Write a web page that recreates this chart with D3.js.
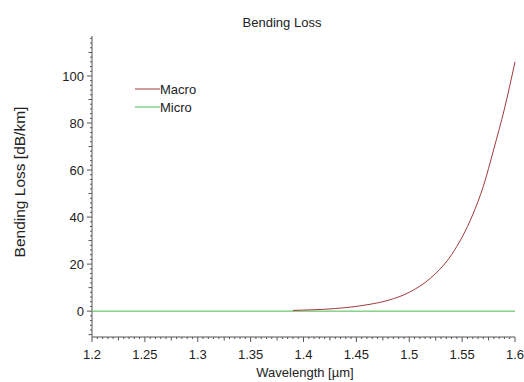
<!DOCTYPE html>
<html lang="en">
<head>
<meta charset="UTF-8">
<title>Bending Loss</title>
<style>
  body { margin: 0; background: #fff; }
  text { font-family: "Liberation Sans", Arial, sans-serif; fill: #222; }
</style>
</head>
<body>
<script src="https://d3js.org/d3.v7.min.js"></script>
<script>

var width = 524,
    height = 382;

var margin = { left: 92, right: 9, top: 36, bottom: 45 };

// wavelength [um] vs bending loss [dB/km]
var macroWavelength = [1.39, 1.40, 1.42, 1.44, 1.46, 1.48, 1.50, 1.52, 1.54, 1.56, 1.57, 1.58, 1.59, 1.60];
var macroLoss       = [0.3, 0.45, 0.8, 1.5, 2.7, 4.6, 8, 14, 24, 41, 53, 69, 86, 106];
var microWavelength = [1.2, 1.6];
var microLoss       = [0, 0];

var xTicks = [1.2, 1.25, 1.3, 1.35, 1.4, 1.45, 1.5, 1.55, 1.6];
var yTicks = [0, 20, 40, 60, 80, 100];
var series = ["Macro", "Micro"];
var colors = ["#a03a3c", "#4cb84c"];

var svg = d3.select("body").append("svg")
    .attr("width", width)
    .attr("height", height);

var x = d3.scaleLinear().domain([1.2, 1.6]).range([margin.left, width - margin.right]);
var y = d3.scaleLinear().domain([-11, 117]).range([height - margin.bottom, margin.top]);

var axisColor = "#555";

// x axis
var xAxis = svg.append("g").attr("transform", "translate(0," + (height - margin.bottom) + ")");
xAxis.append("line")
    .attr("x1", x(1.2)).attr("x2", x(1.6))
    .attr("stroke", axisColor);
var xMinor = d3.range(0, 81).map(function(i) { return 1.2 + i * 0.005; });
xAxis.selectAll("line.minor").data(xMinor).enter().append("line")
    .attr("class", "minor")
    .attr("x1", function(d) { return x(d); })
    .attr("x2", function(d) { return x(d); })
    .attr("y1", 0)
    .attr("y2", function(d, i) { return i % 10 == 0 ? 5 : (i % 5 == 0 ? 3.5 : 2); })
    .attr("stroke", axisColor);
xAxis.selectAll("text").data(xTicks).enter().append("text")
    .attr("x", function(d) { return x(d); })
    .attr("y", 22)
    .attr("text-anchor", "middle")
    .style("font-size", "13px")
    .text(function(d) { return d; });

// y axis
var yAxis = svg.append("g").attr("transform", "translate(" + margin.left + ",0)");
yAxis.append("line")
    .attr("y1", y(-11)).attr("y2", y(117))
    .attr("stroke", axisColor);
var yMinor = d3.range(-10, 117, 2);
yAxis.selectAll("line.minor").data(yMinor).enter().append("line")
    .attr("class", "minor")
    .attr("y1", function(d) { return y(d); })
    .attr("y2", function(d) { return y(d); })
    .attr("x1", function(d) { return d % 20 == 0 ? -5 : (d % 10 == 0 ? -3.5 : -2); })
    .attr("x2", 0)
    .attr("stroke", axisColor);
yAxis.selectAll("text").data(yTicks).enter().append("text")
    .attr("x", -8)
    .attr("y", function(d) { return y(d); })
    .attr("dy", "0.35em")
    .attr("text-anchor", "end")
    .style("font-size", "13px")
    .text(function(d) { return d; });

// lines
var line = d3.line()
    .x(function(d) { return x(d[0]); })
    .y(function(d) { return y(d[1]); })
    .curve(d3.curveMonotoneX);

svg.append("path")
    .datum(d3.zip(microWavelength, microLoss))
    .attr("d", line)
    .attr("fill", "none")
    .attr("stroke", colors[1])
    .attr("stroke-width", 1);

svg.append("path")
    .datum(d3.zip(macroWavelength, macroLoss))
    .attr("d", line)
    .attr("fill", "none")
    .attr("stroke", colors[0])
    .attr("stroke-width", 1);

// legend
var legend = svg.selectAll("g.legend").data(series).enter().append("g")
    .attr("class", "legend")
    .attr("transform", function(d, i) { return "translate(135," + (89 + i * 18) + ")"; });
legend.append("line")
    .attr("x1", 0).attr("x2", 25)
    .attr("stroke", function(d, i) { return colors[i]; });
legend.append("text")
    .attr("x", 25)
    .attr("dy", "0.35em")
    .style("font-size", "13px")
    .text(function(d) { return d; });

// titles
svg.append("text")
    .attr("x", 282).attr("y", 27)
    .attr("text-anchor", "middle")
    .style("font-size", "13px")
    .text("Bending Loss");

svg.append("text")
    .attr("x", 305)
    .attr("y", 377)
    .attr("text-anchor", "middle")
    .style("font-size", "13px")
    .text("Wavelength [µm]");

svg.append("text")
    .attr("transform", "translate(25,182) rotate(-90)")
    .attr("text-anchor", "middle")
    .style("font-size", "15.5px")
    .text("Bending Loss [dB/km]");

</script>
</body>
</html>
